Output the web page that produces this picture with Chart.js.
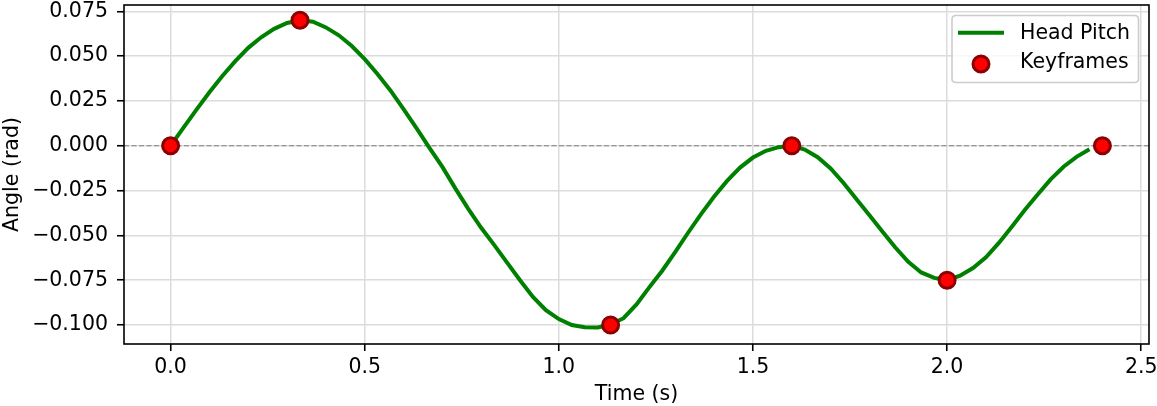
<!DOCTYPE html>
<html>
<head>
<meta charset="utf-8">
<script src="https://cdn.jsdelivr.net/npm/chart.js@4"></script>
<style>
  html, body { margin: 0; padding: 0; background: #ffffff; }
  #wrap { width: 1157px; height: 406px; position: relative; }
</style>
</head>
<body>
<div id="wrap"><canvas id="c" width="1157" height="406"></canvas></div>
<script>
// ---- data ----
const curveTime = [
  0.0000, 0.0333, 0.0667, 0.1000, 0.1333, 0.1667, 0.2000, 0.2333, 0.2667, 0.3000,
  0.3333, 0.3667, 0.4000, 0.4333, 0.4667, 0.5000, 0.5333, 0.5667, 0.6000, 0.6333,
  0.6667, 0.7000, 0.7333, 0.7667, 0.8000, 0.8333, 0.8667, 0.9000, 0.9333, 0.9667,
  1.0000, 1.0333, 1.0667, 1.1000, 1.1333, 1.1667, 1.2000, 1.2333, 1.2667, 1.3000,
  1.3333, 1.3667, 1.4000, 1.4333, 1.4667, 1.5000, 1.5333, 1.5667, 1.6000, 1.6333,
  1.6667, 1.7000, 1.7333, 1.7667, 1.8000, 1.8333, 1.8667, 1.9000, 1.9333, 1.9667,
  2.0000, 2.0333, 2.0667, 2.1000, 2.1333, 2.1667, 2.2000, 2.2333, 2.2667, 2.3000,
  2.3333, 2.3667
];
const headPitch = [
  0.0000, 0.0101, 0.0201, 0.0298, 0.0389, 0.0472, 0.0546, 0.0605, 0.0652, 0.0685,
  0.0700, 0.0692, 0.0660, 0.0616, 0.0556, 0.0483, 0.0399, 0.0307, 0.0204, 0.0098,
  -0.0012, -0.0118, -0.0238, -0.0352, -0.0458, -0.0553, -0.0652, -0.0750, -0.0843, -0.0917,
  -0.0967, -0.1000, -0.1013, -0.1014, -0.0998, -0.0962, -0.0885, -0.0789, -0.0696, -0.0592,
  -0.0484, -0.0380, -0.0283, -0.0196, -0.0122, -0.0066, -0.0028, -0.0008, 0.0000, -0.0021,
  -0.0064, -0.0127, -0.0208, -0.0298, -0.0388, -0.0478, -0.0568, -0.0648, -0.0707, -0.0737,
  -0.0750, -0.0725, -0.0682, -0.0622, -0.0542, -0.0452, -0.0359, -0.0272, -0.0188, -0.0117,
  -0.0062, -0.0020
];
const keyTime = [0.0, 0.3333, 1.1333, 1.6, 2.0, 2.4];
const keyAngle = [0.0, 0.07, -0.1, 0.0, -0.075, 0.0];
const xTicks = [0.0, 0.5, 1.0, 1.5, 2.0, 2.5];
const yTicks = [-0.100, -0.075, -0.050, -0.025, 0.000, 0.025, 0.050, 0.075];
const seriesLabels = ['Head Pitch', 'Keyframes'];
const axisTitles = { x: 'Time (s)', y: 'Angle (rad)' };

// ---- styles ----
const FONT = 'DejaVu Sans';
const FS = 20.5;
const GREEN = '#008000';
const RED = '#ff0000';
const DARKRED = '#8b0000';
const GRID = '#dcdcdc';

const curvePts = curveTime.map((t, i) => ({ x: t, y: headPitch[i] }));
const keyPts = keyTime.map((t, i) => ({ x: t, y: keyAngle[i] }));

function noPad(s) {
  s.paddingTop = 0; s.paddingBottom = 0; s.paddingLeft = 0; s.paddingRight = 0;
}

const decor = {
  id: 'decor',
  beforeDatasetsDraw(chart) {
    const { ctx, chartArea: a, scales } = chart;
    const y0 = scales.y.getPixelForValue(0);
    ctx.save();
    ctx.strokeStyle = '#808080';
    ctx.lineWidth = 1.2;
    ctx.setLineDash([5, 2.5]);
    ctx.beginPath();
    ctx.moveTo(a.left, y0);
    ctx.lineTo(a.right, y0);
    ctx.stroke();
    ctx.restore();
  },
  afterDatasetsDraw(chart) {
    const { ctx, chartArea: a } = chart;
    ctx.save();
    ctx.strokeStyle = '#000000';
    ctx.lineWidth = 1.6;
    ctx.strokeRect(a.left, a.top, a.right - a.left, a.bottom - a.top);
    ctx.restore();
  },
  afterDraw(chart) {
    const { ctx, chartArea: a } = chart;
    const ds0 = chart.data.datasets[1]; // curve
    const ds1 = chart.data.datasets[0]; // keyframes
    const bx = a.right - 197, by = a.top + 10.5, bw = 186.5, bh = 67, r = 4;
    ctx.save();
    ctx.beginPath();
    ctx.moveTo(bx + r, by);
    ctx.lineTo(bx + bw - r, by);
    ctx.quadraticCurveTo(bx + bw, by, bx + bw, by + r);
    ctx.lineTo(bx + bw, by + bh - r);
    ctx.quadraticCurveTo(bx + bw, by + bh, bx + bw - r, by + bh);
    ctx.lineTo(bx + r, by + bh);
    ctx.quadraticCurveTo(bx, by + bh, bx, by + bh - r);
    ctx.lineTo(bx, by + r);
    ctx.quadraticCurveTo(bx, by, bx + r, by);
    ctx.closePath();
    ctx.fillStyle = 'rgba(255,255,255,0.8)';
    ctx.fill();
    ctx.strokeStyle = '#cccccc';
    ctx.lineWidth = 1.6;
    ctx.stroke();

    // line sample
    const ly1 = by + 17.2;
    ctx.strokeStyle = ds0.borderColor;
    ctx.lineWidth = ds0.borderWidth;
    ctx.beginPath();
    ctx.moveTo(bx + 6, ly1);
    ctx.lineTo(bx + 52, ly1);
    ctx.stroke();
    // marker sample
    const ly2 = by + 48.5;
    ctx.beginPath();
    ctx.arc(bx + 29, ly2, ds1.pointRadius, 0, Math.PI * 2);
    ctx.fillStyle = ds1.backgroundColor;
    ctx.fill();
    ctx.lineWidth = ds1.borderWidth;
    ctx.strokeStyle = ds1.borderColor;
    ctx.stroke();

    ctx.fillStyle = '#000000';
    ctx.font = FS + 'px "' + FONT + '"';
    ctx.textBaseline = 'middle';
    ctx.textAlign = 'left';
    ctx.fillText(ds0.label, bx + 68, ly1 + 1);
    ctx.fillText(ds1.label, bx + 68, ly2 - 1.5);
    ctx.restore();
  }
};

new Chart(document.getElementById('c'), {
  type: 'scatter',
  data: {
    datasets: [
      {
        label: seriesLabels[1],
        data: keyPts,
        showLine: false,
        pointRadius: 8,
        pointHoverRadius: 8,
        backgroundColor: RED,
        borderColor: DARKRED,
        borderWidth: 3,
        order: 0
      },
      {
        label: seriesLabels[0],
        data: curvePts,
        showLine: true,
        pointRadius: 0,
        borderColor: GREEN,
        backgroundColor: GREEN,
        borderWidth: 4,
        tension: 0,
        order: 1
      }
    ]
  },
  options: {
    responsive: false,
    animation: false,
    devicePixelRatio: 1,
    layout: { autoPadding: false, padding: { top: 5, right: 8, left: 0, bottom: 0 } },
    plugins: { legend: { display: false }, tooltip: { enabled: false } },
    scales: {
      x: {
        type: 'linear',
        min: -0.12,
        max: 2.52,
        afterBuildTicks: (s) => { s.ticks = xTicks.map(v => ({ value: v })); },
        afterFit: (s) => { s.height = 62; noPad(s); },
        ticks: {
          color: '#000000',
          font: { family: FONT, size: FS },
          padding: 4,
          maxRotation: 0,
          autoSkip: false,
          callback: (v) => Number(v).toFixed(1)
        },
        grid: { color: GRID, lineWidth: 1.5, tickColor: '#000000', tickWidth: 1.6, tickLength: 7, drawTicks: true },
        border: { display: false },
        title: { display: true, text: axisTitles.x, color: '#000000', font: { family: FONT, size: FS }, padding: { top: 0, bottom: -1 } }
      },
      y: {
        type: 'linear',
        min: -0.1106,
        max: 0.0785,
        afterBuildTicks: (s) => { s.ticks = yTicks.map(v => ({ value: v })); },
        afterFit: (s) => { s.width = 124; noPad(s); },
        ticks: {
          color: '#000000',
          font: { family: FONT, size: FS },
          padding: 9,
          autoSkip: false,
          callback: (v) => Number(v).toFixed(3).replace('-', '\u2212')
        },
        grid: { color: GRID, lineWidth: 1.5, tickColor: '#000000', tickWidth: 1.6, tickLength: 7, drawTicks: true },
        border: { display: false },
        title: { display: true, text: axisTitles.y, color: '#000000', font: { family: FONT, size: FS }, padding: { top: 0, bottom: 0 } }
      }
    }
  },
  plugins: [decor]
});
</script>
</body>
</html>
